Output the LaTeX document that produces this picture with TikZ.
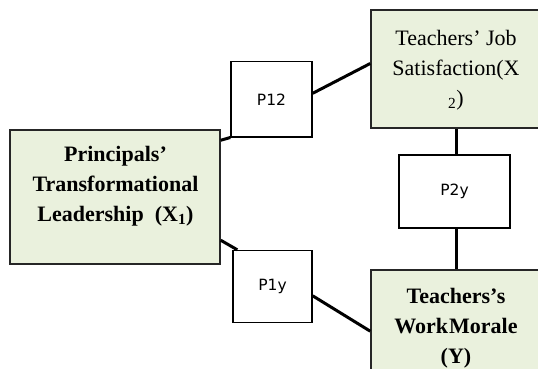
\documentclass[tikz,border=0pt]{standalone}
\usepackage{fontspec}
\setmainfont{Liberation Serif}
\newfontfamily\plabelfont{DejaVu Sans}
\definecolor{boxgreen}{RGB}{234,241,221}
\begin{document}
\begin{tikzpicture}[x=1pt,y=-1pt,
  varbox/.style={draw=black!85,line width=1.5pt,fill=boxgreen,rectangle,inner sep=0pt},
  pathbox/.style={draw=black,line width=1.4pt,fill=white,rectangle,inner sep=0pt,font=\plabelfont\fontsize{15.5}{18}\selectfont},
  vartext/.style={align=center,inner sep=0pt,font=\fontsize{22}{30}\selectfont},
  conn/.style={line width=3pt,draw=black}]
\useasboundingbox (0,0) rectangle (538,369);
\clip (0,0) rectangle (538,369);
% variable boxes
\node[varbox,minimum width=210pt,minimum height=134pt] (L) at (115,197) {};
\node[varbox,minimum width=170pt,minimum height=118pt] (TJS) at (456,69) {};
\node[varbox,minimum width=170pt,minimum height=130pt] (TWM) at (456,335) {};
% path boxes
\node[pathbox,minimum width=81pt,minimum height=75pt] (P12) at (271.5,99.3) {P12};
\node[pathbox,minimum width=111pt,minimum height=73pt] (P2y) at (454.5,191.4) {P2y};
\node[pathbox,minimum width=79pt,minimum height=72pt] (P1y) at (272.5,286.5) {P1y};
% texts
\node[vartext,font=\bfseries\fontsize{22}{30}\selectfont] (Ltext) at (115.5,186) {Principals’\\Transformational\\Leadership\ \ (X\textsubscript{1})};
\node[vartext] (TJStext) at (456,70) {Teachers’ Job\\Satisfaction(X\\\textsubscript{2})};
\node[vartext,font=\bfseries\fontsize{22}{30}\selectfont] (TWMtext) at (456,328) {Teachers’s\\Work\kern1pt Morale\\(Y)};
% connectors
\draw[conn] ([yshift=-11pt]L.north east) -- (P12.south west);
\draw[conn] ([yshift=6pt]P12.east) -- ([yshift=5.5pt]TJS.west);
\draw[conn] (TJS.south) -- (TJS.south |- P2y.north);
\draw[conn] (P2y.south -| TWM.north) -- (TWM.north);
\draw[conn] ([yshift=24.5pt]L.south east) -- ([xshift=5pt]P1y.north west);
\draw[conn] ([yshift=-9.3pt]P1y.east) -- ([yshift=3.8pt]TWM.west);
\end{tikzpicture}
\end{document}
